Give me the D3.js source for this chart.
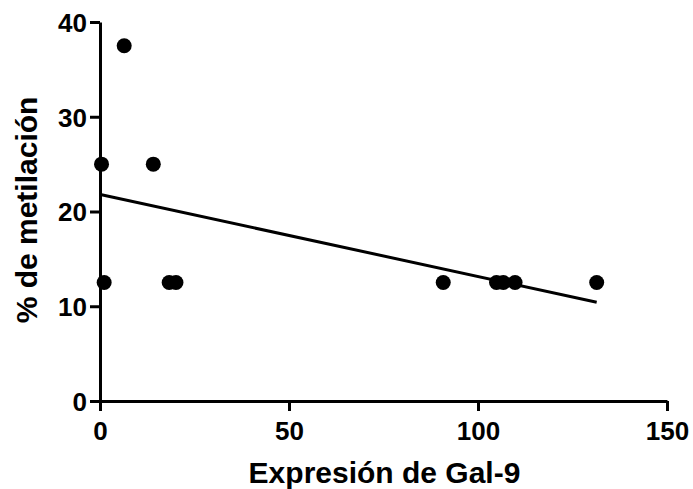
<!DOCTYPE html>
<html>
<head>
<meta charset="utf-8">
<script src="https://cdn.jsdelivr.net/npm/d3@7"></script>
<style>
  html, body { margin: 0; padding: 0; background: #fff; }
  svg { display: block; font-family: "Liberation Sans", Arial, sans-serif; }
</style>
</head>
<body>
<div id="chart"></div>
<script>
const galExpr = [0.4, 1.1, 6.4, 14.1, 18.3, 20.1, 90.8, 104.9, 106.7, 109.8, 131.4];
const metilacion = [25, 12.5, 37.5, 25, 12.5, 12.5, 12.5, 12.5, 12.5, 12.5, 12.5];
const xTicks = [0, 50, 100, 150];
const yTicks = [0, 10, 20, 30, 40];

const w = 693, h = 489;
const m = { t: 22, r: 26, b: 88, l: 100 };
const svg = d3.select('#chart').append('svg').attr('width', w).attr('height', h);

const x = d3.scaleLinear().domain([0, 150]).range([m.l, w - m.r]);
const y = d3.scaleLinear().domain([0, 40]).range([h - m.b, m.t]);

// least squares fit, drawn over the data range
const mx = d3.mean(galExpr), my = d3.mean(metilacion);
const sxy = d3.sum(galExpr, (v, i) => (v - mx) * (metilacion[i] - my));
const sxx = d3.sum(galExpr, v => (v - mx) ** 2);
const slope = sxy / sxx, icpt = my - slope * mx;
const x0 = d3.min(galExpr), x1 = d3.max(galExpr);

const xAxis = svg.append('g').attr('transform', `translate(0,${h - m.b})`)
  .call(d3.axisBottom(x).tickValues(xTicks).tickSize(10).tickSizeOuter(0).tickPadding(11));
const yAxis = svg.append('g').attr('transform', `translate(${m.l},0)`)
  .call(d3.axisLeft(y).tickValues(yTicks).tickSize(10).tickSizeOuter(0).tickPadding(3));

[xAxis, yAxis].forEach(a => {
  a.selectAll('path, line').attr('stroke', '#000').attr('stroke-width', 3);
  a.selectAll('text').attr('fill', '#000').attr('font-size', 26).attr('font-weight', 'bold')
    .attr('font-family', '"Liberation Sans", Arial, sans-serif');
});
yAxis.selectAll('text').attr('dy', '0.36em');

svg.append('line')
  .attr('x1', x(x0)).attr('y1', y(icpt + slope * x0))
  .attr('x2', x(x1)).attr('y2', y(icpt + slope * x1))
  .attr('stroke', '#000').attr('stroke-width', 3);

svg.selectAll('circle.pt')
  .data(galExpr)
  .enter()
  .append('circle')
  .attr('class', 'pt')
  .attr('cx', d => x(d))
  .attr('cy', (d, i) => y(metilacion[i]))
  .attr('r', 7.5)
  .attr('fill', '#000');

svg.append('text')
  .attr('x', (m.l + w - m.r) / 2 + 1).attr('y', 483)
  .attr('text-anchor', 'middle').attr('font-size', 30).attr('font-weight', 'bold')
  .text('Expresión de Gal-9');

svg.append('text')
  .attr('transform', `translate(37,210) rotate(-90)`)
  .attr('text-anchor', 'middle').attr('font-size', 30).attr('font-weight', 'bold')
  .text('% de metilación');
</script>
</body>
</html>
